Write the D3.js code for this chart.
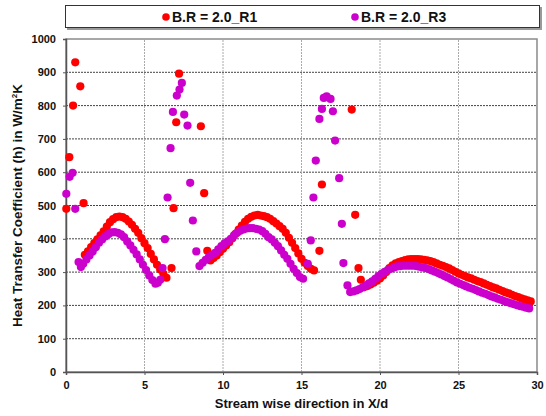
<!DOCTYPE html>
<html>
<head>
<meta charset="utf-8">
<script src="https://cdn.jsdelivr.net/npm/d3@7"></script>
<style>
  html, body { margin: 0; padding: 0; background: #fff; }
  svg text { font-family: "Liberation Sans", Arial, sans-serif; font-weight: bold; fill: #111; }
</style>
</head>
<body>
<svg id="chart" width="546" height="416"></svg>
<script>
// Heat transfer coefficient along the stream-wise direction, two cases.
const seriesNames = ["B.R = 2.0_R1", "B.R = 2.0_R3"];
const seriesColors = ["#ff0000", "#cc00cc"];

const xTicks = [0, 5, 10, 15, 20, 25, 30];
const yTicks = [0, 100, 200, 300, 400, 500, 600, 700, 800, 900, 1000];

// B.R = 2.0_R1
const r1X = [
  0.02, 0.21, 0.45, 0.59, 0.91, 1.12,
  1.2, 1.4, 1.6, 1.8, 2.0, 2.2, 2.4, 2.6, 2.8, 3.0, 3.2, 3.4, 3.6, 3.8, 4.0, 4.2, 4.4, 4.6, 4.8, 5.0,
  5.2, 5.4, 5.6, 5.8, 6.0, 6.2, 6.4, 6.72, 6.85, 7.02, 7.2, 8.59, 8.8, 9.0,
  9.2, 9.4, 9.6, 9.8, 10.0, 10.2, 10.4, 10.6, 10.8, 11.0, 11.2, 11.4, 11.6, 11.8, 12.0, 12.2, 12.4,
  12.6, 12.8, 13.0, 13.2, 13.4, 13.6, 13.8, 14.0, 14.2, 14.4, 14.6, 14.8, 15.0, 15.2, 15.4, 15.6, 15.8,
  16.14, 16.3, 18.2, 18.42, 18.63, 18.78,
  19.0, 19.2, 19.4, 19.6, 19.8, 20.0, 20.2, 20.4, 20.6, 20.8, 21.0, 21.2, 21.4, 21.6, 21.8, 22.0,
  22.2, 22.4, 22.6, 22.8, 23.0, 23.2, 23.4, 23.6, 23.8, 24.0, 24.2, 24.4, 24.6, 24.8, 25.0, 25.2,
  25.4, 25.6, 25.8, 26.0, 26.2, 26.4, 26.6, 26.8, 27.0, 27.2, 27.4, 27.6, 27.8, 28.0, 28.2, 28.4,
  28.6, 28.8, 29.0, 29.2, 29.4, 29.6
];
const r1H = [
  490, 645, 800, 930, 858, 507,
  352, 362, 375, 387, 398, 410, 422, 437, 450, 459, 465, 467, 465, 460, 452, 442, 430, 418, 402, 387,
  372, 355, 338, 322, 308, 295, 283, 312, 492, 750, 896, 738, 537, 364,
  335, 342, 350, 360, 370, 380, 390, 402, 415, 428, 440, 451, 460, 466, 470, 472, 470,
  468, 465, 460, 453, 446, 438, 430, 418, 403, 388, 372, 356, 340, 328, 318, 310, 305,
  364, 563, 788, 472, 312, 277,
  255, 258, 263, 268, 274, 281, 290, 300, 312, 320, 326, 330, 333, 336, 338, 339,
  339, 339, 338, 337, 335, 333, 330, 326, 322, 319, 315, 311, 306, 301, 296, 292,
  288, 284, 281, 277, 273, 270, 266, 262, 258, 254, 251, 247, 243, 239, 236, 232,
  228, 225, 221, 218, 215, 212
];

// B.R = 2.0_R3
const r3X = [
  0.02, 0.23, 0.42, 0.59,
  0.8, 0.95, 1.1, 1.3, 1.5, 1.7, 1.9, 2.1, 2.3, 2.5, 2.7, 2.9, 3.1, 3.3, 3.5, 3.7, 3.9, 4.1, 4.3,
  4.5, 4.7, 4.9, 5.1, 5.3, 5.5, 5.7, 5.85, 6.0, 6.15,
  6.3, 6.47, 6.66, 6.81, 7.06, 7.23, 7.38, 7.53, 7.74, 7.91, 8.08, 8.3,
  8.5, 8.7, 8.9, 9.1, 9.3, 9.5, 9.7, 9.9, 10.1, 10.3, 10.5, 10.7, 10.9, 11.1, 11.3, 11.5, 11.7,
  11.9, 12.1, 12.3, 12.5, 12.7, 12.9, 13.1, 13.3, 13.5, 13.7, 13.9, 14.1, 14.3, 14.5, 14.7, 14.9, 15.1,
  15.4, 15.59, 15.76, 15.91, 16.14, 16.3, 16.42, 16.6, 16.85, 17.0, 17.14, 17.4, 17.57, 17.67, 17.93,
  18.1, 18.3, 18.5, 18.7, 18.9, 19.1, 19.3, 19.5, 19.7, 19.9, 20.1, 20.3, 20.5, 20.7, 20.9, 21.1,
  21.3, 21.5, 21.7, 21.9, 22.1, 22.3, 22.5, 22.7, 22.9, 23.1, 23.3, 23.5, 23.7, 23.9, 24.1, 24.3,
  24.5, 24.7, 24.9, 25.1, 25.3, 25.5, 25.7, 25.9, 26.1, 26.3, 26.5, 26.7, 26.9, 27.1, 27.3, 27.5,
  27.7, 27.9, 28.1, 28.3, 28.5, 28.7, 28.9, 29.1, 29.3, 29.5
];
const r3H = [
  535, 586, 598, 490,
  330, 315, 325, 338, 350, 362, 375, 388, 398, 407, 414, 419, 420, 418, 413, 405, 392, 380, 367,
  353, 338, 322, 306, 290, 276, 265, 268, 277, 312,
  399, 524, 672, 781, 830, 848, 868, 773, 740, 568, 455, 362,
  318, 328, 337, 345, 352, 358, 368, 378, 386, 392, 400, 410, 418, 424, 428, 431, 432,
  432, 430, 428, 423, 415, 405, 398, 388, 378, 365, 352, 340, 325, 310, 297, 285, 280,
  325, 395, 524, 635, 760, 790, 823, 828, 820, 783, 695, 582, 445, 327, 260,
  240, 242, 245, 249, 254, 260, 266, 272, 280, 288, 295, 301, 306, 310, 314, 317,
  318, 319, 319, 319, 319, 318, 316, 314, 312, 309, 305, 301, 297, 293, 288, 284,
  279, 274, 269, 265, 261, 257, 253, 250, 246, 242, 238, 235, 231, 227, 224, 220,
  217, 213, 210, 207, 204, 201, 198, 196, 193, 191
];

const svg = d3.select("#chart");
const margin = { left: 66, right: 9, top: 39, bottom: 44 };
const W = 546, H = 416;
const x = d3.scaleLinear().domain([0, 30]).range([margin.left, W - margin.right]);
const y = d3.scaleLinear().domain([0, 1000]).range([H - margin.bottom, margin.top]);

// Legend box with drop shadow
svg.append("rect").attr("x", 67).attr("y", 7).attr("width", 475).attr("height", 23).attr("fill", "#9a9a9a");
svg.append("rect").attr("x", 65.5).attr("y", 5.5).attr("width", 474).attr("height", 22)
  .attr("fill", "#fff").attr("stroke", "#333").attr("stroke-width", 1);
const legendX = [166, 355];
seriesNames.forEach((name, i) => {
  svg.append("circle").attr("cx", legendX[i]).attr("cy", 17).attr("r", 3.8).attr("fill", seriesColors[i]);
  svg.append("text").attr("x", legendX[i] + 6).attr("y", 22).attr("font-size", 14).text(name);
});

// Gridlines
svg.append("g")
  .selectAll("line").data(yTicks.filter(d => d > 0 && d < 1000)).join("line")
  .attr("x1", x(0)).attr("x2", x(30)).attr("y1", d => y(d)).attr("y2", d => y(d))
  .attr("stroke", "#444").attr("stroke-width", 1).attr("stroke-dasharray", "2,1");
svg.append("g")
  .selectAll("line").data(xTicks.filter(d => d > 0 && d < 30)).join("line")
  .attr("x1", d => x(d)).attr("x2", d => x(d)).attr("y1", y(0)).attr("y2", y(1000))
  .attr("stroke", "#aaa").attr("stroke-width", 1).attr("stroke-dasharray", "2,1");

// Plot frame
svg.append("rect").attr("x", x(0)).attr("y", y(1000)).attr("width", x(30) - x(0)).attr("height", y(0) - y(1000))
  .attr("fill", "none").attr("stroke", "#8a8a8a").attr("stroke-width", 1.5);

// Axes
const xAxis = svg.append("g").attr("transform", `translate(0,${y(0)})`)
  .call(d3.axisBottom(x).tickValues(xTicks).tickSize(3).tickPadding(6).tickFormat(d3.format("d")));
const yAxis = svg.append("g").attr("transform", `translate(${x(0)},0)`)
  .call(d3.axisLeft(y).tickValues(yTicks).tickSize(3).tickPadding(7).tickFormat(d3.format("d")));
[xAxis, yAxis].forEach(g => {
  g.select(".domain").attr("stroke", "#555").attr("stroke-width", 1.5);
  g.selectAll(".tick line").attr("stroke", "#555");
  g.selectAll(".tick text").attr("font-size", 11).attr("font-family", "'Liberation Sans', Arial, sans-serif")
    .attr("font-weight", "bold").attr("fill", "#111");
});

// Axis titles
svg.append("text").attr("x", (x(0) + x(30)) / 2).attr("y", 408).attr("text-anchor", "middle")
  .attr("font-size", 13).text("Stream wise direction in X/d");
const yt = svg.append("text").attr("transform", `translate(22,${(y(0) + y(1000)) / 2}) rotate(-90)`)
  .attr("text-anchor", "middle").attr("font-size", 13.5);
yt.append("tspan").text("Heat Transfer Coefficient (h) in W/m");
yt.append("tspan").attr("font-size", 8).attr("dy", -5).text("2");
yt.append("tspan").attr("dy", 5).text("K");

// Data points: R1 first, R3 drawn over it
const sets = [
  { xs: r1X, hs: r1H, color: seriesColors[0] },
  { xs: r3X, hs: r3H, color: seriesColors[1] }
];
sets.forEach(s => {
  svg.append("g").selectAll("circle").data(d3.zip(s.xs, s.hs)).join("circle")
    .attr("cx", d => x(d[0])).attr("cy", d => y(d[1])).attr("r", 4.1).attr("fill", s.color);
});
</script>
</body>
</html>
